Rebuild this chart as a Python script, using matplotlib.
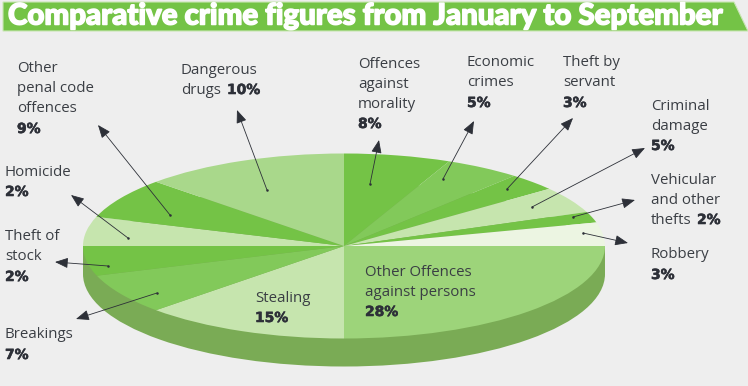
#! /usr/bin/python
import matplotlib
matplotlib.use('Agg')
import matplotlib.pyplot as plt
import matplotlib.patheffects as pe
from matplotlib.patches import Ellipse, Polygon, Rectangle

title = 'Comparative crime figures from January to September'

# drawn share of each slice, clockwise from the top
categories = ['Offences against morality', 'Economic crimes', 'Theft by servant',
              'Criminal damage', 'Vehicular and other thefts', 'Robbery',
              'Other Offences against persons', 'Stealing', 'Breakings',
              'Theft of stock', 'Homicide', 'Other penal code offences',
              'Dangerous drugs']
shares = [6.6, 4.7, 3.1, 4.6, 1.9, 4.1, 25.0, 12.8, 7.0, 5.2, 5.1, 7.1, 12.8]
percents = [8, 5, 3, 5, 2, 3, 28, 15, 7, 2, 2, 9, 10]

LIGHT = '#c6e5ae'
GREEN = '#74c346'
MID = '#82c95a'
colors = [GREEN, MID, GREEN, LIGHT, GREEN, '#ecf5e2', '#9dd47a', LIGHT, MID,
          GREEN, LIGHT, GREEN, '#a9d88b']

TEXT = '#3a3e44'
BG = '#eeeeee'
W, H = 748, 386
cx, cy, rx, ry, depth = 344, 246, 261, 92.5, 28

lines = [['Offences', 'against', 'morality'], ['Economic', 'crimes'], ['Theft by', 'servant'],
         ['Criminal', 'damage'], ['Vehicular', 'and other', 'thefts'], ['Robbery'],
         ['Other Offences', 'against persons'], ['Stealing'], ['Breakings'],
         ['Theft of', 'stock'], ['Homicide'], ['Other', 'penal code', 'offences'],
         ['Dangerous', 'drugs']]
text_xy = [(358, 64), (467, 63), (563, 63), (651, 106), (651, 180), (651, 255),
           (365, 272), (255, 298), (5, 335), (5, 237), (5, 172), (17, 69), (181, 70)]
inline = [False, False, False, False, True, False, False, False, False, False, False, False, True]
inline_dx = {4: 46, 12: 46}
dots = [(370, 184), (443, 179), (507, 189), (532, 207), (573, 217), (583, 233),
        None, None, (157, 293), (108, 266), (128, 238), (170, 215), (267, 190)]
tips = [(379, 140), (474, 121), (573, 118), (645, 148), (635, 200), (628, 243),
        None, None, (76, 319), (55, 262), (71, 195), (98, 125), (237, 110)]

fig = plt.figure(figsize=(W / 100, H / 100), dpi=100, facecolor=BG)

# page axes in pixel coordinates
ax = fig.add_axes([0, 0, 1, 1])
ax.set_xlim(0, W)
ax.set_ylim(H, 0)
ax.axis('off')

ax.add_patch(Polygon([(3, 2), (734, 2), (748, 31), (3, 31)], fc=GREEN, ec='#c9e6b4', lw=0.8))
ax.text(8, 16.5, title, color='white', fontsize=21.2, fontweight='black', family='Lato',
        va='center', ha='left',
        path_effects=[pe.withStroke(linewidth=1.1, foreground='white')])

# side of the disc
side = '#7aab55'
ax.add_patch(Ellipse((cx, cy + depth), 2 * rx, 2 * ry, fc=side, ec='none'))
ax.add_patch(Rectangle((cx - rx, cy), 2 * rx, depth, fc=side, ec='none'))

# top of the disc, a pie squashed by its own axes
pie_ax = fig.add_axes([(cx - rx) / W, 1 - (cy + ry) / H, 2 * rx / W, 2 * ry / H])
pie_ax.pie(shares, colors=colors, startangle=90, counterclock=False, radius=1,
           wedgeprops={'linewidth': 0})
pie_ax.set_aspect('auto')
pie_ax.set_xlim(-1, 1)
pie_ax.set_ylim(-1, 1)
pie_ax.patch.set_alpha(0)

# labels and arrows above the pie
over = fig.add_axes([0, 0, 1, 1])
over.set_xlim(0, W)
over.set_ylim(H, 0)
over.axis('off')

line_h = 20
for i, name_lines in enumerate(lines):
    x, y = text_xy[i]
    for j, s in enumerate(name_lines):
        over.text(x, y + j * line_h, s, color=TEXT, fontsize=10.8, family='Open Sans', va='center')
    pct = '%d%%' % percents[i]
    if inline[i]:
        px = x + inline_dx[i]
        py = y + (len(name_lines) - 1) * line_h
    else:
        px = x
        py = y + len(name_lines) * line_h
    over.text(px, py, pct, color='#2d3038', fontsize=10, fontweight='bold', family='DejaVu Sans', va='center',
              path_effects=[pe.withStroke(linewidth=0.4, foreground='#2d3038')])
    if dots[i] is not None:
        over.annotate('', xy=tips[i], xytext=dots[i],
                      arrowprops=dict(arrowstyle='-|>,head_length=0.8,head_width=0.32', color='#2d3038',
                                      lw=0.6, shrinkA=0, shrinkB=0))
        over.plot(*dots[i], 'o', ms=1.8, color='#2d3038', mew=0)

fig.savefig('out.png', dpi=100, facecolor=BG)
